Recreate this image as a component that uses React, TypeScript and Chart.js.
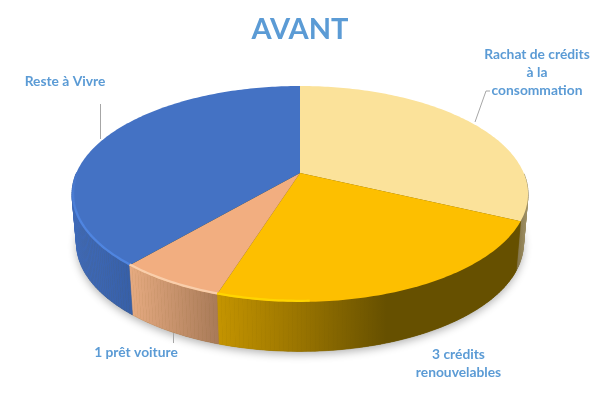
import React, { useEffect, useRef } from "react";
import { Chart, registerables } from "chart.js";

Chart.register(...registerables);

const titleText = "AVANT";
const categories = ["Rachat de crédits à la consommation", "3 crédits renouvelables", "1 prêt voiture", "Reste à Vivre"];
const values = [32, 22.9, 6.4, 38.7];
const sliceColors = ["#FBE29A", "#FDBF00", "#F2AE80", "#4472C4"];
const labelLines = [
  ["Rachat de crédits", "à la", "consommation"],
  ["3 crédits", "renouvelables"],
  ["1 prêt voiture"],
  ["Reste à Vivre"],
];

const BLUE = "#5B9BD5";
const CX = 300, CY = 173, BX = 223.7, BY = 103.9, K = 0.194, DEPTH = 49.5, BOTTOM_SCALE = 0.98;

function project(a: number, dy = 0): [number, number] {
  const u = Math.cos(a), v = Math.sin(a);
  const w = 1 - K * v;
  const sx = dy > 10 ? BOTTOM_SCALE : 1;
  return [CX + (sx * BX * u) / w, CY + (BY * v) / w + dy];
}

function rim(ctx: CanvasRenderingContext2D, a0: number, a1: number, dy: number, reverse = false, first = false) {
  const n = Math.max(2, Math.ceil(Math.abs(a1 - a0) * 60));
  for (let i = 0; i <= n; i++) {
    const t = reverse ? 1 - i / n : i / n;
    const [x, y] = project(a0 + (a1 - a0) * t, dy);
    if (first && i === 0) ctx.moveTo(x, y);
    else ctx.lineTo(x, y);
  }
}

const deg = (d: number) => (d - 90) * Math.PI / 180;

function wallFill(ctx: CanvasRenderingContext2D, i: number) {
  const g = ctx.createLinearGradient(60, 0, 540, 0);
  const stops: [number, string][][] = [
    [[0.94, "#6F6340"], [0.96, "#8F8055"], [0.98, "#A89A70"]],
    [[0.33, "#C49400"], [0.5, "#997400"], [0.68, "#665000"], [1, "#665000"]],
    [[0.14, "#E8AC82"], [0.33, "#A87A58"]],
    [[0, "#3F6BBA"], [0.08, "#3C66B2"], [0.16, "#365EA5"]],
  ];
  stops[i].forEach(([o, c]) => g.addColorStop(o, c));
  return g;
}

function wallStrips(ctx: CanvasRenderingContext2D, a0: number, a1: number) {
  const n = Math.max(2, Math.ceil((a1 - a0) * 60));
  for (let s = 0; s < n; s++) {
    const p0 = a0 + ((a1 - a0) * s) / n;
    const p1 = a0 + ((a1 - a0) * (s + 1)) / n;
    if (Math.sin((p0 + p1) / 2) < 0) continue; // back of the disc is hidden
    const [ax, ay] = project(p0, 0);
    const [bx, by] = project(p1, 0);
    const [cx, cy] = project(p1, DEPTH);
    const [dx, dy] = project(p0, DEPTH);
    ctx.beginPath();
    ctx.moveTo(ax, ay);
    ctx.lineTo(bx, by);
    ctx.lineTo(cx, cy);
    ctx.lineTo(dx, dy);
    ctx.closePath();
    ctx.fill();
    ctx.stroke();
  }
}

const pie3d = {
  id: "pie3d",
  beforeDatasetsDraw(chart: any) {
    const ctx: CanvasRenderingContext2D = chart.ctx;
    const arcs = chart.getDatasetMeta(0).data;
    ctx.save();
    // soft shadow below the disc
    ctx.save();
    ctx.shadowColor = "rgba(0,0,0,0.3)";
    ctx.shadowBlur = 8;
    ctx.shadowOffsetY = 3;
    ctx.fillStyle = "#665000";
    ctx.beginPath();
    rim(ctx, 0, Math.PI * 2, DEPTH, false, true);
    ctx.closePath();
    ctx.fill();
    ctx.restore();
    // side walls
    arcs.forEach((arc: any, i: number) => {
      const g = wallFill(ctx, i);
      ctx.fillStyle = g;
      ctx.strokeStyle = g;
      ctx.lineWidth = 0.6;
      wallStrips(ctx, arc.startAngle, arc.endAngle);
    });
    // top faces
    arcs.forEach((arc: any, i: number) => {
      ctx.beginPath();
      ctx.moveTo(CX, CY);
      rim(ctx, arc.startAngle, arc.endAngle, 0);
      ctx.closePath();
      ctx.fillStyle = sliceColors[i];
      ctx.fill();
    });
    // bevel highlight along the near-left rim, inside the top face only
    ctx.save();
    ctx.beginPath();
    rim(ctx, 0, Math.PI * 2, 0, false, true);
    ctx.closePath();
    ctx.clip();
    const blueFade = ctx.createLinearGradient(0, 170, 0, 220);
    blueFade.addColorStop(0, "rgba(80,135,228,0)");
    blueFade.addColorStop(1, "rgba(80,135,228,0.9)");
    const bevels: [number, number, string | CanvasGradient, number][] = [
      [arcs[3].startAngle, deg(272), blueFade, 4.5],
      [arcs[2].startAngle, arcs[2].endAngle, "rgba(250,210,175,0.9)", 4.5],
      [deg(178), arcs[1].endAngle, "rgba(255,215,0,0.9)", 4.5],
    ];
    ctx.lineCap = "butt";
    bevels.forEach(([a0, a1, c, w]) => {
      ctx.beginPath();
      rim(ctx, a0, a1, 0, false, true);
      ctx.strokeStyle = c;
      ctx.lineWidth = w;
      ctx.stroke();
    });
    ctx.restore();
    ctx.restore();
    return false;
  },
  afterDraw(chart: any) {
    const ctx: CanvasRenderingContext2D = chart.ctx;
    ctx.save();
    ctx.strokeStyle = "#A6A6A6";
    ctx.lineWidth = 1;
    const leaders = [
      [[475, 122], [486, 91], [490, 91]],
      null,
      [[173.5, 333], [173.5, 343]],
      [[100.5, 104], [100.5, 139]],
    ];
    leaders.forEach((pts) => {
      if (!pts) return;
      ctx.beginPath();
      pts.forEach(([x, y], j) => (j ? ctx.lineTo(x, y) : ctx.moveTo(x, y)));
      ctx.stroke();
    });
    ctx.fillStyle = BLUE;
    ctx.font = "bold 13.8px Lato";
    ctx.textAlign = "center";
    ctx.textBaseline = "middle";
    const anchors = [[537, 55], [458.5, 355], [136, 353], [65, 82]];
    labelLines.forEach((lines, i) => {
      lines.forEach((t, j) => ctx.fillText(t, anchors[i][0], anchors[i][1] + j * 18));
    });
    ctx.restore();
  },
};

export default function App() {
  const ref = useRef<HTMLCanvasElement>(null);
  useEffect(() => {
    document.body.style.margin = "0";
    const chart = new Chart(ref.current!, {
      type: "pie",
      data: {
        labels: categories,
        datasets: [{ data: values, backgroundColor: sliceColors, borderWidth: 0 }],
      },
      options: {
        responsive: false,
        animation: false,
        plugins: {
          legend: { display: false },
          tooltip: { enabled: false },
          title: {
            display: true,
            text: titleText,
            color: BLUE,
            font: { family: "Lato", size: 29, weight: "bold" },
            padding: { top: 12, bottom: 4 },
          },
        },
      },
      plugins: [pie3d],
    } as any);
    return () => chart.destroy();
  }, []);
  return <canvas ref={ref} width={600} height={400} style={{ display: "block", background: "#fff" }} />;
}
